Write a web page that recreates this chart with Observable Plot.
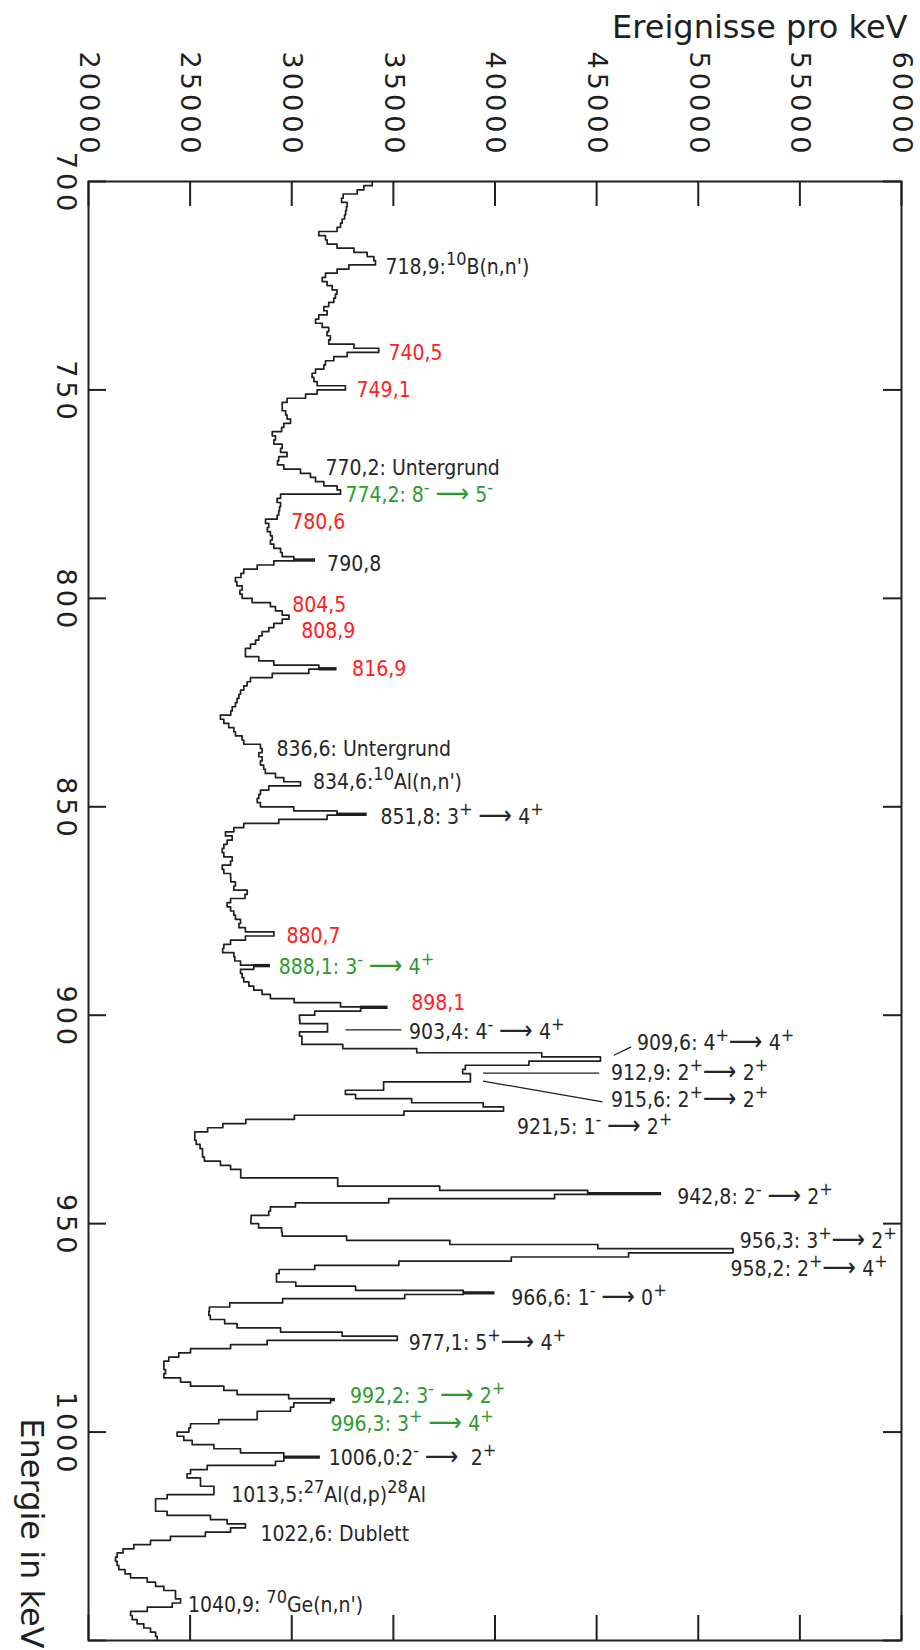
<!DOCTYPE html>
<html>
<head>
<meta charset="utf-8">
<script src="https://cdn.jsdelivr.net/npm/d3@7"></script>
<script src="https://cdn.jsdelivr.net/npm/@observablehq/plot@0.6"></script>
<style>
  html, body { margin: 0; padding: 0; background: #fff; }
  #chart svg { display: block; }
</style>
</head>
<body>
<div id="chart"></div>
<script>
// Gamma spectrum, 1 keV bins from 700 to 1050 keV (events per keV)
const binStart = 700;
const binWidth = 1;
const counts = [
  33960, 33550, 33220, 32530, 32450, 32730, 32690, 32650, 32600, 32480, // 700
  32400, 32230, 31330, 31660, 31740, 32230, 33060, 33710, 34040, 34120, // 710
  32810, 32230, 31660, 31500, 31740, 31990, 32230, 32150, 32070, 31820, // 720
  31580, 31740, 31330, 31170, 31500, 31820, 31740, 31900, 31820, 33060, // 730
  34280, 32730, 32070, 31660, 31580, 31170, 31000, 31090, 31250, 32640, // 740
  31250, 30680, 29770, 29530, 29530, 29700, 29770, 29940, 29610, 29500, // 750
  29040, 29200, 29120, 29530, 29450, 29770, 29360, 29300, 29610, 30430, // 760
  30920, 31170, 31580, 32230, 32400, 29450, 29280, 29450, 29400, 29360, // 770
  29280, 28710, 28870, 28800, 28950, 29040, 28950, 29120, 29450, 29530, // 780
  30100, 29120, 28300, 27640, 27500, 27230, 27300, 27560, 27450, 27560, // 790
  28050, 28950, 29200, 29530, 29860, 29530, 29120, 28870, 28540, 28380, // 800
  28220, 27970, 27720, 27720, 28380, 29120, 31330, 30840, 29040, 27970, // 810
  27800, 27640, 27480, 27400, 27310, 27230, 27070, 27000, 26490, 26660, // 820
  26900, 27150, 27230, 27560, 27640, 28460, 28540, 28380, 28540, 28460, // 830
  28620, 28700, 29200, 29610, 30430, 28870, 28460, 28380, 28300, 28460, // 840
  30100, 32230, 31740, 29360, 27640, 27150, 26740, 27070, 26820, 26660, // 850
  26580, 26660, 27070, 26990, 26580, 26660, 26990, 27000, 27230, 27150, // 860
  27810, 27700, 26990, 26820, 26990, 27150, 27230, 27480, 27400, 27720, // 870
  29120, 27720, 26990, 26660, 26600, 27150, 27200, 27480, 28130, 27480, // 880
  27560, 27640, 27890, 28130, 28540, 28950, 30120, 32400, 33390, 31130, // 890
  30380, 30400, 31760, 31760, 30380, 30500, 30500, 32510, 36150, 42300, // 900
  45190, 41670, 38540, 38410, 38790, 38790, 34520, 34520, 32640, 33140, // 910
  35900, 39420, 40420, 35520, 30130, 27740, 26610, 25860, 25230, 25230, // 920
  25300, 25490, 25610, 25610, 25700, 26490, 26990, 27490, 27490, 32260, // 930
  32260, 37280, 44560, 42930, 34770, 30180, 28950, 28870, 28000, 27990, // 940
  28370, 29500, 29530, 32700, 37780, 45060, 51710, 46570, 40800, 35270, // 950
  31130, 29380, 29250, 29250, 30200, 33140, 38440, 35560, 29550, 26950, // 960
  25950, 25920, 25990, 26700, 27310, 29450, 32480, 35190, 28790, 26990, // 970
  25020, 24440, 23950, 23710, 23710, 23790, 23710, 24530, 25020, 26660, // 980
  27310, 29850, 31910, 30100, 29940, 28300, 28300, 26410, 25020, 24940, // 990
  24360, 24690, 25100, 26170, 27480, 29610, 29610, 29200, 25840, 25020, // 1000
  24850, 25510, 25510, 26170, 26170, 23870, 23300, 23300, 23300, 23870, // 1010
  26000, 26820, 27720, 26990, 25750, 24030, 23050, 22230, 21700, 21410, // 1020
  21330, 21410, 21490, 21800, 22070, 22890, 23300, 23710, 24280, 24280, // 1030
  24530, 24120, 22890, 22070, 22150, 22390, 22720, 23050, 23300, 23380  // 1040
];
const energies = counts.map((_, i) => binStart + i * binWidth);

// Peak maxima drawn as short heavy strokes (energy, top count)
const peakEnergy = [790.8, 816.9, 851.8, 888.1, 898.1, 942.8, 966.6, 992.2, 1006.0];
const peakTop    = [31170, 32230, 33710, 28950, 34740, 48200, 40000, 32150, 31410];

// Axis ticks
const countTicks = [20000, 25000, 30000, 35000, 40000, 45000, 50000, 55000, 60000];
const energyTicks = [700, 750, 800, 850, 900, 950, 1000, 1050];
const energyTickLabels = [700, 750, 800, 850, 900, 950, 1000];

// Line annotations: text (^{..} = superscript), where it sits (keV, counts) and its kind
const annotationText = [
  "718,9:^{10}B(n,n')",
  "740,5",
  "749,1",
  "770,2: Untergrund",
  "774,2: 8^{-} ⟶ 5^{-}",
  "780,6",
  "790,8",
  "804,5",
  "808,9",
  "816,9",
  "836,6: Untergrund",
  "834,6:^{10}Al(n,n')",
  "851,8: 3^{+} ⟶ 4^{+}",
  "880,7",
  "888,1: 3^{-} ⟶ 4^{+}",
  "898,1",
  "903,4: 4^{-} ⟶ 4^{+}",
  "909,6: 4^{+}⟶ 4^{+}",
  "912,9: 2^{+}⟶ 2^{+}",
  "915,6: 2^{+}⟶ 2^{+}",
  "921,5: 1^{-} ⟶ 2^{+}",
  "942,8: 2^{-} ⟶ 2^{+}",
  "956,3: 3^{+}⟶ 2^{+}",
  "958,2: 2^{+}⟶ 4^{+}",
  "966,6: 1^{-} ⟶ 0^{+}",
  "977,1: 5^{+}⟶ 4^{+}",
  "992,2: 3^{-} ⟶ 2^{+}",
  "996,3: 3^{+} ⟶ 4^{+}",
  "1006,0:2^{-} ⟶  2^{+}",
  "1013,5:^{27}Al(d,p)^{28}Al",
  "1022,6: Dublett",
  "1040,9: ^{70}Ge(n,n')"
];
const annotationEnergy = [
  720.6, 741.2, 750.1, 768.9, 775.3, 781.7, 791.9, 801.7, 807.9, 816.9,
  836.1, 844.1, 852.5, 881.1, 888.6, 897.1, 904.0, 906.7, 913.9, 920.4,
  926.9, 943.6, 954.2, 961.0, 967.8, 978.8, 991.4, 998.2, 1006.4, 1015.2,
  1024.5, 1041.6
];
const annotationCount = [
  34610, 34760, 33190, 31660, 32640, 29970, 31740, 30020, 30470, 32970,
  29250, 31040, 34370, 29740, 29360, 35880, 35770, 46990, 45710, 45710,
  41080, 48970, 52040, 51590, 40800, 35760, 32860, 31910, 31820, 27020,
  28460, 24890
];
const annotationKind = [
  "known", "unassigned", "unassigned", "known", "new", "unassigned", "known", "unassigned", "unassigned", "unassigned",
  "known", "known", "known", "unassigned", "new", "unassigned", "known", "known", "known", "known",
  "known", "known", "known", "known", "known", "known", "new", "new", "known", "known",
  "known", "known"
];

// Leader lines from a peak to its label (counts, keV)
const leaderFromCount = [32640, 45850, 39410, 39410];
const leaderFromEnergy = [903.5, 909.6, 913.9, 915.8];
const leaderToCount = [35400, 46700, 45130, 45290];
const leaderToEnergy = [903.5, 907.6, 913.9, 920.8];

const kindColor = {known: "#262626", unassigned: "#ff2020", new: "#2c9a2c"};
const ink = "#1f1f1f";

const W = 920, H = 1650;
const M = {top: 181, right: 19, bottom: 10, left: 88};
const innerW = W - M.left - M.right;
const innerH = H - M.top - M.bottom;
const countTickLen = 25, energyTickLen = 18;
const labelFont = "'DejaVu Sans Condensed', 'DejaVu Sans', sans-serif";
const labelSize = 21;
const tickLabelFont = "'DejaVu Sans', sans-serif";
const tickLabelSize = 27;
const titleSize = 32;

const bins = energies.map((e, i) => ({e, count: counts[i]}));
const last = bins[bins.length - 1];
const outline = [...bins, {e: last.e + binWidth, count: last.count}];

const peaks = peakEnergy.map((e, i) => ({
  e, top: peakTop[i], base: counts[Math.floor((e - binStart) / binWidth)]
}));

const annotations = annotationText.map((text, i) => ({
  text, e: annotationEnergy[i], count: annotationCount[i], kind: annotationKind[i]
}));

const leaders = leaderFromCount.map((c, i) => ({
  x1: c, y1: leaderFromEnergy[i], x2: leaderToCount[i], y2: leaderToEnergy[i]
}));

const annotationMarks = Object.keys(kindColor).map(kind =>
  Plot.text(annotations.filter(d => d.kind === kind), {
    x: "count", y: "e", text: "text",
    textAnchor: "start", lineAnchor: "middle",
    fill: kindColor[kind], fontSize: labelSize, fontFamily: labelFont
  })
);

const chart = Plot.plot({
  width: W, height: H,
  marginTop: M.top, marginRight: M.right, marginBottom: M.bottom, marginLeft: M.left,
  x: {domain: [20000, 60000], axis: null},
  y: {domain: [700, 1050], reverse: true, axis: null},
  style: {background: "#fff", color: ink, fontFamily: "'DejaVu Sans', sans-serif"},
  marks: [
    // inward ticks on all four sides
    Plot.tickX(countTicks, {x: d => d, insetBottom: innerH - countTickLen, stroke: ink, strokeWidth: 2}),
    Plot.tickX(countTicks, {x: d => d, insetTop: innerH - countTickLen, stroke: ink, strokeWidth: 2}),
    Plot.tickY(energyTicks, {y: d => d, insetRight: innerW - energyTickLen, stroke: ink, strokeWidth: 2}),
    Plot.tickY(energyTicks, {y: d => d, insetLeft: innerW - energyTickLen, stroke: ink, strokeWidth: 2}),
    Plot.frame({stroke: ink, strokeWidth: 2}),

    // spectrum as a histogram outline
    Plot.line(outline, {x: "count", y: "e", curve: "step-before", stroke: ink, strokeWidth: 1.7}),
    Plot.ruleY(peaks, {y: "e", x1: "base", x2: "top", stroke: ink, strokeWidth: 3.4}),

    // leader lines
    Plot.link(leaders, {x1: "x1", y1: "y1", x2: "x2", y2: "y2", stroke: ink, strokeWidth: 1.3}),

    // rotated tick labels
    Plot.text(countTicks, {
      x: d => d, text: d => String(d), frameAnchor: "top", dy: -24,
      rotate: 90, textAnchor: "end", lineAnchor: "middle",
      fontSize: tickLabelSize, fill: ink, fontFamily: tickLabelFont
    }),
    Plot.text(energyTickLabels, {
      y: d => d, text: d => String(d), frameAnchor: "left", dx: -23, dy: 2,
      rotate: 90, textAnchor: "middle", lineAnchor: "middle",
      fontSize: tickLabelSize, fill: ink, fontFamily: tickLabelFont
    }),

    // axis titles
    Plot.text(["Ereignisse pro keV"], {
      frameAnchor: "top-right", dx: 6, dy: -144, textAnchor: "end", lineAnchor: "bottom",
      fontSize: titleSize, fill: ink
    }),
    Plot.text(["Energie in keV"], {
      frameAnchor: "bottom-left", dx: -57, dy: 8, rotate: 90, textAnchor: "end", lineAnchor: "middle",
      fontSize: titleSize, fill: ink
    }),

    ...annotationMarks
  ]
});

// Turn ^{...} runs into raised, smaller tspans; draw the transition arrow a little larger
const svgNS = "http://www.w3.org/2000/svg";
const supSize = Math.round(labelSize * 0.88);
const supRise = Math.round(labelSize * 0.45);
const arrowSize = Math.round(labelSize * 1.22);
chart.querySelectorAll("text").forEach(el => {
  const raw = el.textContent;
  if (!raw.includes("^{") && !raw.includes("⟶")) return;
  while (el.firstChild) el.removeChild(el.firstChild);
  const parts = raw.split(/(\^\{[^}]*\}|⟶)/).filter(s => s.length);
  let raised = false;
  for (const part of parts) {
    const sup = part.startsWith("^{");
    const span = document.createElementNS(svgNS, "tspan");
    span.textContent = sup ? part.slice(2, -1) : part;
    if (sup) {
      span.setAttribute("font-size", supSize);
      if (!raised) span.setAttribute("dy", -supRise);
      raised = true;
    } else {
      if (part === "⟶") span.setAttribute("font-size", arrowSize);
      if (raised) {
        span.setAttribute("dy", supRise);
        raised = false;
      }
    }
    el.appendChild(span);
  }
});

// wider letter spacing on the rotated axis numbers
chart.querySelectorAll("text").forEach(el => {
  if (/^\d+$/.test(el.textContent)) el.setAttribute("letter-spacing", "4");
});

document.getElementById("chart").appendChild(chart);
</script>
</body>
</html>
